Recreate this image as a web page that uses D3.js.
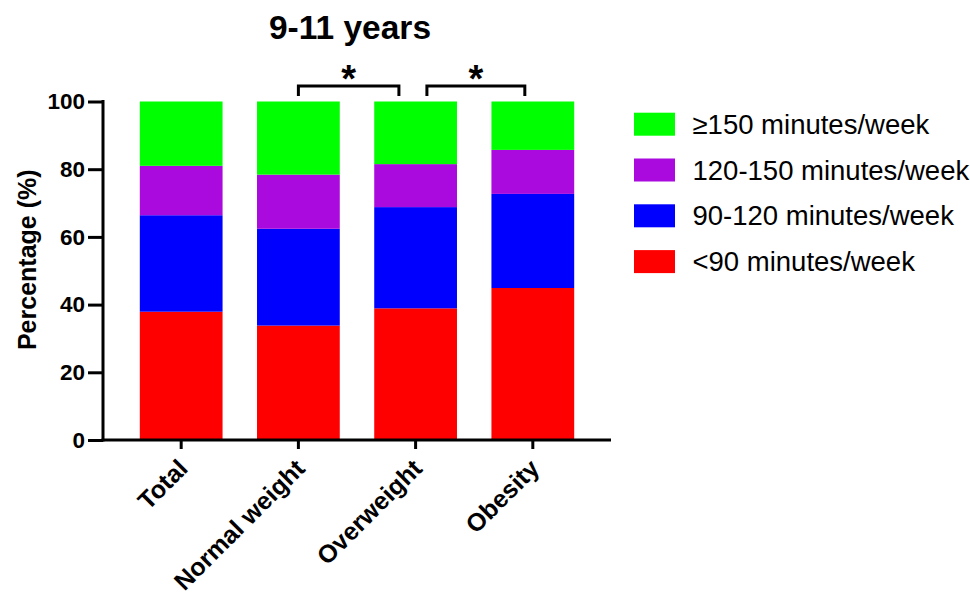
<!DOCTYPE html>
<html>
<head>
<meta charset="utf-8">
<script src="https://cdn.jsdelivr.net/npm/d3@7"></script>
<style>
  html, body { margin: 0; padding: 0; background: #fff; }
  svg { display: block; font-family: "Liberation Sans", Arial, Helvetica, sans-serif; }
</style>
</head>
<body>
<svg id="chart" width="970" height="595"></svg>
<script>
// Weight-status groups on the x axis
const categories = ["Total", "Normal weight", "Overweight", "Obesity"];

// Stack order from bottom to top, with the share (%) of each group
const seriesNames = ["<90 minutes/week", "90-120 minutes/week", "120-150 minutes/week", "\u2265150 minutes/week"];
const under90   = [37.9, 33.8, 38.9, 44.9];
const from90    = [28.5, 28.6, 29.9, 27.8];
const from120   = [14.6, 16.0, 12.7, 13.0];
const over150   = [19.0, 21.6, 18.5, 14.3];
const seriesValues = [under90, from90, from120, over150];
const seriesColors = ["#ff0000", "#0000ff", "#aa0ade", "#00ff00"];

const yTicks = [0, 20, 40, 60, 80, 100];

// Significance brackets between groups
const comparisons = [
  { from: "Normal weight", to: "Overweight", label: "*" },
  { from: "Overweight", to: "Obesity", label: "*" }
];

const svg = d3.select("#chart");
const plot = { left: 103, right: 611, top: 101.5, bottom: 440 };

const x = d3.scaleBand()
  .domain(categories)
  .range([plot.left, plot.right])
  .paddingInner(0.294)
  .paddingOuter(0.314);

const y = d3.scaleLinear().domain([0, 100]).range([plot.bottom, plot.top]);

// Build stacked rows
const rows = categories.map((c, i) => {
  const r = { category: c };
  seriesNames.forEach((s, j) => { r[s] = seriesValues[j][i]; });
  return r;
});
const stacked = d3.stack().keys(seriesNames)(rows);

svg.append("g")
  .selectAll("g")
  .data(stacked)
  .join("g")
  .attr("fill", (d, i) => seriesColors[i])
  .selectAll("rect")
  .data(d => d)
  .join("rect")
  .attr("x", d => x(d.data.category))
  .attr("width", x.bandwidth())
  .attr("y", d => y(Math.min(d[1], 100)))
  .attr("height", d => y(d[0]) - y(Math.min(d[1], 100)));

// Y axis
const yAxis = svg.append("g")
  .attr("transform", `translate(${plot.left},0)`)
  .call(d3.axisLeft(y).tickValues(yTicks).tickSize(15).tickPadding(3).tickSizeOuter(0));
yAxis.select(".domain").attr("stroke", "#000").attr("stroke-width", 3)
  .attr("d", `M0,${plot.top - 1.5}V${plot.bottom + 1.5}`);
yAxis.selectAll(".tick line").attr("stroke", "#000").attr("stroke-width", 3);
yAxis.selectAll(".tick text")
  .attr("fill", "#000")
  .style("font-size", "22.5px")
  .style("font-weight", "bold");

// X axis
const xAxis = svg.append("g")
  .attr("transform", `translate(0,${plot.bottom})`)
  .call(d3.axisBottom(x).tickSize(9).tickSizeOuter(0));
xAxis.select(".domain").attr("stroke", "#000").attr("stroke-width", 3)
  .attr("d", `M${plot.left - 1.5},0H${plot.right}`);
xAxis.selectAll(".tick text")
  .attr("fill", "#000")
  .style("font-size", "25px")
  .style("font-weight", "bold")
  .attr("text-anchor", "end")
  .attr("dy", null)
  .attr("y", 0)
  .attr("transform", "translate(8,30) rotate(-45)");
xAxis.selectAll(".tick line").attr("stroke", "#000").attr("stroke-width", 3);

// Y axis title
svg.append("text")
  .attr("transform", `translate(36,${(plot.top + plot.bottom) / 2 - 11}) rotate(-90)`)
  .attr("text-anchor", "middle")
  .style("font-size", "25px")
  .style("font-weight", "bold")
  .text("Percentage (%)");

// Chart title
svg.append("text")
  .attr("x", 350)
  .attr("y", 39)
  .attr("text-anchor", "middle")
  .style("font-size", "33.5px")
  .style("font-weight", "bold")
  .text("9-11 years");

// Significance brackets
const bracketOffsets = [[0, -16.7], [11.3, -8]];
comparisons.forEach((c, i) => {
  const x1 = x(c.from) + x.bandwidth() / 2 + bracketOffsets[i][0];
  const x2 = x(c.to) + x.bandwidth() / 2 + bracketOffsets[i][1];
  const top = 86, leg = 96;
  svg.append("path")
    .attr("d", `M${x1},${leg}V${top}H${x2}V${leg}`)
    .attr("fill", "none")
    .attr("stroke", "#000")
    .attr("stroke-width", 3);
  svg.append("text")
    .attr("x", (x1 + x2) / 2)
    .attr("y", 92)
    .attr("text-anchor", "middle")
    .style("font-size", "38px")
    .style("font-weight", "bold")
    .text(c.label);
});

// Legend, top entry is the top of the stack
const legend = svg.append("g").attr("transform", "translate(634,112.7)");
const legendOrder = d3.range(seriesNames.length).reverse();
legendOrder.forEach((j, k) => {
  const g = legend.append("g").attr("transform", `translate(0,${k * 45.8})`);
  g.append("rect").attr("width", 41).attr("height", 23).attr("fill", seriesColors[j]);
  g.append("text")
    .attr("x", 58.5)
    .attr("y", 21)
    .style("font-size", "27.5px")
    .text(seriesNames[j]);
});
</script>
</body>
</html>
